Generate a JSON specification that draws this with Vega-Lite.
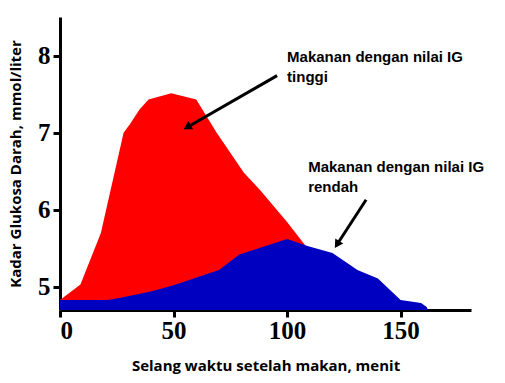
{
  "$schema": "https://vega.github.io/schema/vega-lite/v6.json",
  "width": 411,
  "height": 293,
  "autosize": {"type": "none"},
  "padding": {"left": 60, "top": 17, "right": 34, "bottom": 73},
  "background": "white",
  "config": {
    "view": {"stroke": null},
    "axis": {
      "grid": false,
      "domainColor": "black",
      "domainWidth": 3,
      "tickColor": "black",
      "tickWidth": 3,
      "tickSize": 7,
      "labelFont": "Liberation Sans Narrow",
      "labelFontSize": 25,
      "labelFontWeight": "bold",
      "labelColor": "black",
      "titleFont": "Open Sans",
      "titleFontSize": 15,
      "titleFontWeight": "bold",
      "titleColor": "black"
    }
  },
  "datasets": {
    "tinggi": [
      {"t": 0, "g": 4.83},
      {"t": 9, "g": 5.03},
      {"t": 18, "g": 5.7},
      {"t": 28, "g": 7.0},
      {"t": 31, "g": 7.12},
      {"t": 35, "g": 7.3},
      {"t": 39, "g": 7.43},
      {"t": 49, "g": 7.51},
      {"t": 60, "g": 7.43},
      {"t": 69, "g": 7.0},
      {"t": 81, "g": 6.48},
      {"t": 88, "g": 6.26},
      {"t": 100, "g": 5.84},
      {"t": 109, "g": 5.5}
    ],
    "rendah": [
      {"t": 0, "g": 4.83},
      {"t": 21, "g": 4.83},
      {"t": 25, "g": 4.85},
      {"t": 40, "g": 4.94},
      {"t": 50, "g": 5.02},
      {"t": 70, "g": 5.22},
      {"t": 79, "g": 5.42},
      {"t": 100, "g": 5.62},
      {"t": 109, "g": 5.53},
      {"t": 120, "g": 5.44},
      {"t": 131, "g": 5.22},
      {"t": 140, "g": 5.11},
      {"t": 150, "g": 4.83},
      {"t": 159, "g": 4.79},
      {"t": 161.5, "g": 4.74},
      {"t": 162, "g": 4.7}
    ],
    "labels": [
      {"t": 100, "g": 7.91, "label": "Makanan dengan nilai IG"},
      {"t": 100, "g": 7.66, "label": "tinggi"},
      {"t": 109.3, "g": 6.49, "label": "Makanan dengan nilai IG"},
      {"t": 109.3, "g": 6.23, "label": "rendah"}
    ],
    "arrow1": [{"t": 95.6, "g": 7.74, "t2": 56, "g2": 7.07}],
    "arrow2": [{"t": 134.8, "g": 6.13, "t2": 122, "g2": 5.55}]
  },
  "layer": [
    {
      "data": {"name": "tinggi"},
      "mark": {"type": "area", "color": "#ff0000", "clip": true},
      "encoding": {
        "x": {"field": "t", "type": "quantitative", "scale": {"domain": [0, 181], "nice": false},
          "axis": {"values": [0, 50, 100, 150], "format": "d", "title": "Selang waktu setelah makan, menit", "labelPadding": 1, "titlePadding": 15}},
        "y": {"field": "g", "type": "quantitative", "scale": {"domain": [4.7, 8.5], "zero": false, "nice": false},
          "axis": {"values": [5, 6, 7, 8], "format": "d", "title": "Kadar Glukosa Darah, mmol/liter", "labelPadding": 3, "titlePadding": 14}},
        "y2": {"datum": 4.7}
      }
    },
    {
      "data": {"name": "rendah"},
      "mark": {"type": "area", "color": "#0000c0", "clip": true},
      "encoding": {
        "x": {"field": "t", "type": "quantitative"},
        "y": {"field": "g", "type": "quantitative"},
        "y2": {"datum": 4.7}
      }
    },
    {
      "data": {"name": "labels"},
      "mark": {"type": "text", "align": "left", "baseline": "alphabetic", "font": "Liberation Sans", "fontSize": 15, "fontWeight": "bold", "color": "black"},
      "encoding": {
        "x": {"field": "t", "type": "quantitative"},
        "y": {"field": "g", "type": "quantitative"},
        "text": {"field": "label"}
      }
    },
    {
      "data": {"name": "arrow1"},
      "mark": {"type": "rule", "strokeWidth": 3, "color": "black"},
      "encoding": {
        "x": {"field": "t", "type": "quantitative"},
        "y": {"field": "g", "type": "quantitative"},
        "x2": {"field": "t2"},
        "y2": {"field": "g2"}
      }
    },
    {
      "data": {"name": "arrow2"},
      "mark": {"type": "rule", "strokeWidth": 3, "color": "black"},
      "encoding": {
        "x": {"field": "t", "type": "quantitative"},
        "y": {"field": "g", "type": "quantitative"},
        "x2": {"field": "t2"},
        "y2": {"field": "g2"}
      }
    },
    {
      "data": {"name": "arrow1"},
      "mark": {"type": "point", "shape": "triangle-up", "filled": true, "color": "black", "opacity": 1, "size": 90, "angle": 240},
      "encoding": {
        "x": {"field": "t2", "type": "quantitative"},
        "y": {"field": "g2", "type": "quantitative"}
      }
    },
    {
      "data": {"name": "arrow2"},
      "mark": {"type": "point", "shape": "triangle-up", "filled": true, "color": "black", "opacity": 1, "size": 90, "angle": 213},
      "encoding": {
        "x": {"field": "t2", "type": "quantitative"},
        "y": {"field": "g2", "type": "quantitative"}
      }
    }
  ]
}
